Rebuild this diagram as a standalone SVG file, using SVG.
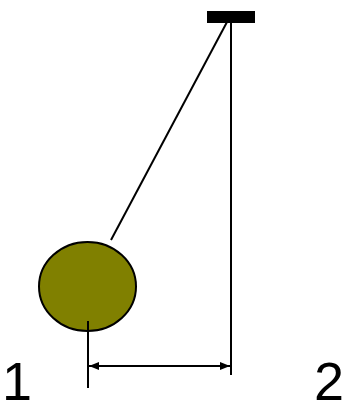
<svg xmlns="http://www.w3.org/2000/svg" width="346" height="402" viewBox="0 0 346 402">
<style>
.ln{stroke:#000;stroke-width:2;fill:none}
.lbl{font-family:"Liberation Sans",Arial,sans-serif;font-size:54px;fill:#000}
</style>
<defs>
<marker id="ah" viewBox="0 0 10 8" refX="10" refY="4" markerWidth="10" markerHeight="8" markerUnits="userSpaceOnUse" orient="auto-start-reverse">
<path d="M0,0 L10,4 L0,8 Z" fill="#000"/>
</marker>
</defs>
<g id="connectors">
<line class="ln" x1="227" y1="22" x2="111" y2="240"/>
<line class="ln" x1="231" y1="22" x2="231" y2="375"/>
<line class="ln" x1="88" y1="321" x2="88" y2="388"/>
<line class="ln" x1="89" y1="366" x2="230" y2="366" marker-start="url(#ah)" marker-end="url(#ah)"/>
</g>
<g id="support"><rect x="207" y="11" width="48" height="12" fill="#000"/></g>
<g id="bob"><ellipse cx="87.5" cy="286.5" rx="48.5" ry="44.5" fill="#808000" stroke="#000" stroke-width="2"/>
<line class="ln" x1="88" y1="321" x2="88" y2="332"/></g>
<g id="label1"><text class="lbl" x="2" y="400">1</text></g>
<g id="label2"><text class="lbl" x="314" y="400">2</text></g>
</svg>
